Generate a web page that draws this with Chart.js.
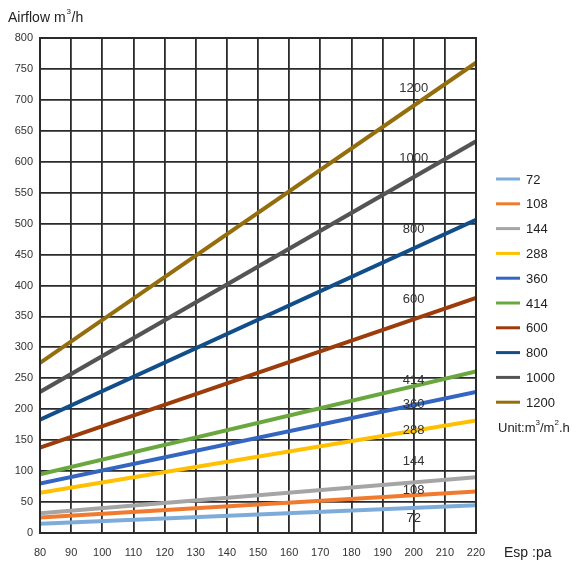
<!DOCTYPE html>
<html>
<head>
<meta charset="utf-8">
<script src="https://cdn.jsdelivr.net/npm/chart.js@4"></script>
<style>
  html, body { margin: 0; padding: 0; background: #fff; }
  #wrap { width: 584px; height: 561px; position: relative; }
</style>
</head>
<body>
<div id="wrap"><canvas id="chart"></canvas></div>
<script>
const seriesNames = ["72", "108", "144", "288", "360", "414", "600", "800", "1000", "1200"];
const xRange = [80, 220];
const startValues = [15, 25, 32, 65, 80, 95, 138, 183, 228, 275];
const endValues = [45, 67, 90, 182, 228, 261, 380, 506, 633, 760];
const colors = ["#7dacdb", "#f07b2e", "#a5a5a5", "#ffc000", "#3465c0", "#6aa83f", "#9c3c0a", "#124e89", "#545454", "#946d0c"];

// labels written on the chart next to the lines
const tagX = [200, 200, 200, 200, 200, 200, 200, 200, 200, 200];
const tagY = [23, 69, 115, 166, 208, 246, 377, 490, 606, 719];

const FONT = "'Liberation Sans', Arial, sans-serif";
const GRID = "#2a2a2a";

const datasets = seriesNames.map((name, i) => ({
  label: name,
  data: [{ x: xRange[0], y: startValues[i] }, { x: xRange[1], y: endValues[i] }],
  borderColor: colors[i],
  backgroundColor: colors[i],
  borderWidth: 4,
  pointRadius: 0,
  fill: false,
  tension: 0
}));

const extras = {
  id: "extras",
  afterDatasetsDraw(chart) {
    const ctx = chart.ctx;
    const xs = chart.scales.x, ys = chart.scales.y;
    ctx.save();
    ctx.fillStyle = "#333";
    ctx.textAlign = "center";
    ctx.textBaseline = "middle";
    ctx.font = "13px " + FONT;
    seriesNames.forEach((n, i) => {
      ctx.fillText(n, xs.getPixelForValue(tagX[i]), ys.getPixelForValue(tagY[i]));
    });

    // legend
    ctx.textAlign = "left";
    ctx.font = "13px " + FONT;
    seriesNames.forEach((n, i) => {
      const y = 179 + i * 24.8;
      ctx.strokeStyle = colors[i];
      ctx.lineWidth = 3;
      ctx.beginPath();
      ctx.moveTo(496, y);
      ctx.lineTo(520, y);
      ctx.stroke();
      ctx.fillStyle = "#222";
      ctx.fillText(n, 526, y + 1);
    });
    ctx.fillText("Unit:m", 498, 428);
    let w = ctx.measureText("Unit:m").width;
    ctx.font = "8px " + FONT;
    ctx.fillText("3", 498 + w, 423);
    let w2 = ctx.measureText("3").width;
    ctx.font = "13px " + FONT;
    ctx.fillText("/m", 498 + w + w2, 428);
    let w3 = ctx.measureText("/m").width;
    ctx.font = "8px " + FONT;
    ctx.fillText("2", 498 + w + w2 + w3, 423);
    let w4 = ctx.measureText("2").width;
    ctx.font = "13px " + FONT;
    ctx.fillText(".h", 498 + w + w2 + w3 + w4, 428);

    // axis titles
    ctx.font = "14px " + FONT;
    ctx.fillText("Airflow m", 8, 18);
    const a = ctx.measureText("Airflow m").width;
    ctx.font = "8px " + FONT;
    ctx.fillText("3", 8 + a + 1, 12);
    ctx.font = "14px " + FONT;
    ctx.fillText("/h", 8 + a + 6, 18);
    ctx.font = "14px " + FONT;
    ctx.fillText("Esp :pa", 504, 553);

    // plot border
    const ca = chart.chartArea;
    ctx.strokeStyle = GRID;
    ctx.lineWidth = 2;
    ctx.strokeRect(ca.left, ca.top, ca.right - ca.left, ca.bottom - ca.top);
    ctx.restore();
  }
};

new Chart(document.getElementById("chart"), {
  type: "line",
  data: { datasets: datasets },
  options: {
    responsive: true,
    maintainAspectRatio: false,
    animation: false,
    layout: { padding: { top: 38, right: 108, left: 0, bottom: 0 } },
    plugins: { legend: { display: false }, tooltip: { enabled: false } },
    scales: {
      x: {
        type: "linear",
        min: 80,
        max: 220,
        ticks: { stepSize: 10, padding: 13, color: "#333", font: { family: FONT, size: 11 }, maxRotation: 0 },
        grid: { color: GRID, lineWidth: 1.8, drawTicks: false },
        border: { color: GRID, width: 2 },
        afterFit: s => { s.height = 28; }
      },
      y: {
        min: 0,
        max: 800,
        ticks: { stepSize: 50, padding: 7, color: "#333", font: { family: FONT, size: 11 } },
        grid: { color: GRID, lineWidth: 1.8, drawTicks: false },
        border: { color: GRID, width: 2 },
        afterFit: s => { s.width = 40; }
      }
    }
  },
  plugins: [extras]
});
</script>
</body>
</html>
